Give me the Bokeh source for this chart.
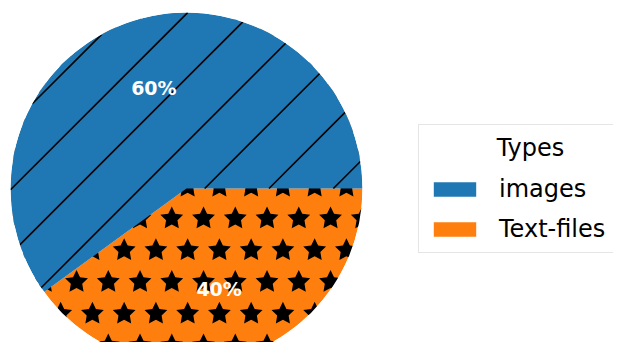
import numpy as np
from bokeh.plotting import figure
from bokeh.models import Range1d, Legend, LegendItem, ColumnDataSource
from bokeh.core.properties import value
from bokeh.embed import file_html
from bokeh.resources import INLINE

# ---- data ----
categories = ["images", "Text-files"]
shares = [60, 40]
colors = ["#1f77b4", "#ff7f0e"]
legend_title = "Types"

# ---- layout / style ----
W, H = 613, 342
CX, CY = 186, 188        # pie centre, px from frame top-left
R = 176                  # pie radius, px
LINE_STEP = 64.3         # spacing of "/" hatch lines (measured along x)
LINE_PHASE = -239.0      # offset of first hatch line (x - y in px from centre)
STAR_STEP = 31.75        # star hatch grid spacing
STAR_ORIGIN = (32.9, 1.75)
STAR_R, STAR_INNER = 12.0, 0.5

p = figure(width=W, height=H, output_backend="svg", toolbar_location=None,
           x_range=Range1d(-CX, W - CX), y_range=Range1d(-(H - CY), CY),
           x_axis_location=None, y_axis_location=None, min_border=0)
p.grid.visible = False
p.outline_line_color = None
p.background_fill_color = "white"

frac = np.array(shares, dtype=float) / sum(shares)
ends = np.cumsum(frac) * 2 * np.pi
starts = ends - frac * 2 * np.pi
mids = (starts + ends) / 2
labels = [f"{round(f * 100)}%" for f in frac]

# 1) "Text-files" wedge (orange) with star hatch
w_txt = p.wedge(x=0, y=0, radius=R, start_angle=starts[1], end_angle=ends[1],
                fill_color=colors[1], line_color=None)

def star_poly(cx, cy):
    ang = np.pi / 2 + np.arange(10) * np.pi / 5
    rad = np.where(np.arange(10) % 2 == 0, STAR_R, STAR_R * STAR_INNER)
    return list(cx + rad * np.cos(ang)), list(cy + rad * np.sin(ang))

sxs, sys_ = [], []
nrows = int(R / STAR_STEP) + 2
for k in range(-nrows, nrows + 1):
    yk = STAR_ORIGIN[1] - k * STAR_STEP
    x0 = STAR_ORIGIN[0] - (k % 2) * STAR_STEP / 2
    for m in range(-nrows - 1, nrows + 2):
        xm = x0 + m * STAR_STEP
        if np.hypot(xm, yk) < R + STAR_R:
            a, b = star_poly(xm, yk)
            sxs.append(a); sys_.append(b)
p.patches(xs=sxs, ys=sys_, fill_color="black", line_color=None)

# 2) "images" wedge (blue) drawn over the star field, with "/" hatch lines
w_img = p.wedge(x=0, y=0, radius=R, start_angle=starts[0], end_angle=ends[0],
                fill_color=colors[0], line_color=None)

lxs, lys = [], []
kmax = int(2 * R * np.sqrt(2) / LINE_STEP) + 2
for k in range(0, kmax + 1):
    d = LINE_PHASE + k * LINE_STEP
    half = R ** 2 - d ** 2 / 2
    if half <= 0:
        continue
    tmax = np.sqrt(half)
    t = np.arange(-tmax, tmax, 0.2)
    X = d / 2 + t / np.sqrt(2)
    Y = -d / 2 + t / np.sqrt(2)
    ang = np.mod(np.arctan2(Y, X), 2 * np.pi)
    inside = (ang >= starts[0]) & (ang <= ends[0])
    idx = np.flatnonzero(inside)
    if idx.size == 0:
        continue
    breaks = np.flatnonzero(np.diff(idx) > 1)
    for run in np.split(idx, breaks + 1):
        if run.size > 1:
            lxs.append([X[run[0]], X[run[-1]]])
            lys.append([Y[run[0]], Y[run[-1]]])
p.multi_line(xs=lxs, ys=lys, line_color="black", line_width=1.6)

# 3) white mask outside the pie (clips the star field to the circle)
p.annulus(x=0, y=0, inner_radius=R, outer_radius=2000, fill_color="white", line_color=None)

# percentage labels
lab_src = ColumnDataSource(dict(x=0.6 * R * np.cos(mids), y=0.6 * R * np.sin(mids), t=labels))
p.text(x="x", y="y", text="t", source=lab_src, text_color="white",
       text_font=value("DejaVu Sans"), text_font_style="bold", text_font_size="19px",
       text_align="center", text_baseline="middle")

legend = Legend(items=[LegendItem(label=categories[0], renderers=[w_img]),
                       LegendItem(label=categories[1], renderers=[w_txt])],
                title="\u00a0" * 9 + legend_title, location=(418, 89))
legend.title_text_font = "DejaVu Sans"
legend.title_text_font_size = "24px"
legend.title_text_font_style = "normal"
legend.title_text_color = "#000000"
legend.title_standoff = 13
legend.label_text_font = "DejaVu Sans"
legend.label_text_font_size = "24px"
legend.label_text_color = "#000000"
legend.glyph_width = 53
legend.glyph_height = 18
legend.label_standoff = 18
legend.padding = 9
legend.spacing = 12
legend.border_line_color = "#cccccc"
legend.border_line_width = 1
legend.background_fill_alpha = 1.0
p.add_layout(legend)

open("out.html", "w").write(file_html(p, INLINE))
